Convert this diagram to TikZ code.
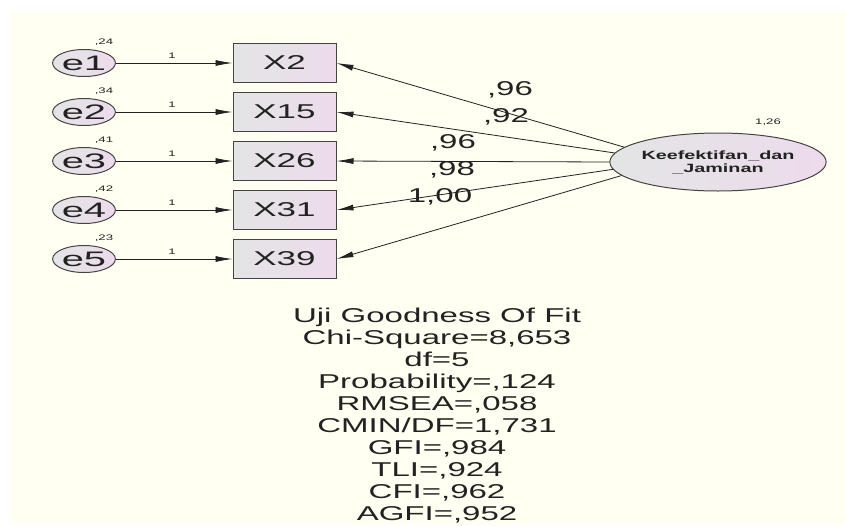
\documentclass[tikz,border=0pt]{standalone}
\usepackage{fontspec}
\setmainfont{Liberation Sans}
\newfontfamily\wf[FakeStretch=1.65]{Liberation Sans}
\newfontfamily\wfb[FakeStretch=1.75]{Liberation Sans}
\newfontfamily\wfe[FakeStretch=1.9]{Liberation Sans}
\usetikzlibrary{shapes.geometric,arrows.meta}
\definecolor{bgy}{HTML}{FFFFF2}
\definecolor{lgray}{HTML}{E3E5E5}
\definecolor{lpink}{HTML}{EDDBEC}
\definecolor{ink}{HTML}{222222}
\definecolor{edge}{HTML}{444444}
\begin{document}
\begin{tikzpicture}[x=1pt,y=-1pt,
  obsbox/.style={draw=edge, line width=1pt, minimum width=103pt, minimum height=39pt,
    inner sep=0pt, left color=lgray, right color=lpink, text=ink,
    font=\wfb\fontsize{20}{20}\selectfont},
  errell/.style={ellipse, draw=edge, line width=1pt, minimum width=62pt, minimum height=27pt,
    inner sep=0pt, left color=lgray, right color=lpink, text=ink,
    font=\wfe\fontsize{21}{21}\selectfont},
  latell/.style={ellipse, draw=edge, line width=1pt, minimum width=200pt, minimum height=58pt,
    inner sep=0pt, left color=lgray, right color=lpink, text=ink, align=center,
    font=\wf\bfseries\fontsize{12}{13}\selectfont},
  arr/.style={draw=ink, line width=0.8pt, -{Latex[length=17pt,width=6pt]}},
  smalllab/.style={font=\wf\fontsize{8}{8}\selectfont, inner sep=0pt, text=ink},
  coef/.style={font=\wf\fontsize{20}{20}\selectfont, inner sep=0pt, text=ink},
  fitlab/.style={font=\wf\fontsize{20}{22}\selectfont, inner sep=0pt, text=ink, align=center}
]
\useasboundingbox (0,0) rectangle (845,525);
\fill[white] (0,0) rectangle (845,525);
\fill[bgy] (10,12) rectangle (845,525);

% latent
\node[latell] (lat) at (718,162) {Keefektifan\_dan\\\_Jaminan};
\node[smalllab] (vlat) at (768,122) {1,26};

% observed + errors
\foreach \i/\e/\x/\v/\a in {0/e1/X2/{,24}/171, 1/e2/X15/{,34}/175, 2/e3/X26/{,41}/180, 3/e4/X31/{,42}/184, 4/e5/X39/{,23}/188}{
  \node[errell] (\e) at (84,{63+49*\i}) {\e};
  \node[obsbox] (\x) at (284.5,{63+49*\i}) {\x};
  \node[smalllab] (v\e) at (104,{42+49*\i}) {\v};
  \node[smalllab] (w\e) at (172,{56+49*\i}) {1};
  \draw[arr] (\e.east) -- (\x.west);
  \draw[arr] (lat.\a) -- (\x.east);
}

% loadings
\node[coef] (c1) at (510,90) {,96};
\node[coef] (c2) at (506,117) {,92};
\node[coef] (c3) at (453,143) {,96};
\node[coef] (c4) at (452,170) {,98};
\node[coef] (c5) at (440,197) {1,00};

% fit
\node[fitlab] (fit) at (437,416) {Uji Goodness Of Fit\\Chi-Square=8,653\\df=5\\Probability=,124\\RMSEA=,058\\CMIN/DF=1,731\\GFI=,984\\TLI=,924\\CFI=,962\\AGFI=,952};
\end{tikzpicture}
\end{document}
